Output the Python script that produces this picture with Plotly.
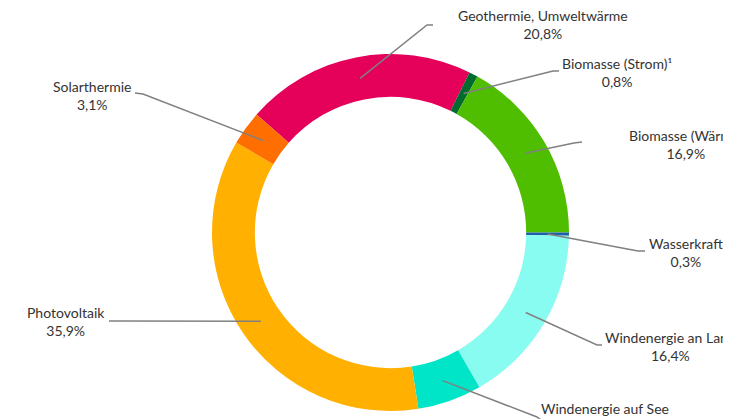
import math
import plotly.graph_objects as go

# ---- data ----
labels = ["Geothermie, Umweltwärme", "Biomasse (Strom)¹", "Biomasse (Wärme)", "Wasserkraft",
          "Windenergie an Land", "Windenergie auf See", "Photovoltaik", "Solarthermie"]
values = [20.8, 0.8, 16.9, 0.3, 16.4, 5.8, 35.9, 3.1]
value_text = ["20,8%", "0,8%", "16,9%", "0,3%", "16,4%", "5,8%", "35,9%", "3,1%"]
colors = ["#E5005A", "#006B2E", "#50BE00", "#1F5FA8", "#88FCF0", "#00E4C8", "#FFB000", "#FF6E00"]

# ---- layout constants (pixels in the screenshot) ----
W, H = 731, 419
OFF = 8  # page body margin
CX, CY, R = 390.5, 232.5, 178.5
HOLE = 0.76
ROT = -48.6  # start angle of first slice, clockwise from 12 o'clock

# label block centers and leader-line elbow/end points (pixels)
label_pos = [(543, 25), (617, 72.5), (686, 144), (686, 252.5),
             (670, 346), (605, 417), (66, 321), (92, 95.5)]
leader = [[(427, 25), (433, 25)],
          [(553, 71), (559, 71)],
          [(574, 143), (582, 142)],
          [(638, 251), (645, 251)],
          [(597, 345), (602, 345)],
          [(537, 417), (541, 420)],
          [(120, 321), (109, 321)],
          [(143, 94), (135, 93)]]

def px(x):
    return (x - OFF) / W

def py(y):
    return 1 - (y - OFF) / H

fig = go.Figure(go.Pie(
    labels=labels, values=values, sort=False, direction="clockwise",
    rotation=ROT, hole=HOLE,
    marker=dict(colors=colors, line=dict(width=0)),
    textinfo="none", hoverinfo="label+percent",
    domain=dict(x=[px(CX - R), px(CX + R)], y=[py(CY + R), py(CY - R)]),
    showlegend=False,
))

total = sum(values)
shapes = []
annotations = []
cum = 0.0
r_mid = R * (1 + HOLE) / 2
for i, v in enumerate(values):
    mid = ROT + (cum + v / 2) / total * 360
    cum += v
    a = math.radians(mid)
    x0 = CX + r_mid * math.sin(a)
    y0 = CY - r_mid * math.cos(a)
    pts = [(x0, y0)] + leader[i]
    path = "M " + " L ".join(f"{px(x):.5f},{py(y):.5f}" for x, y in pts)
    shapes.append(dict(type="path", path=path, xref="paper", yref="paper",
                       line=dict(color="#808080", width=1.5)))
    lx, ly = label_pos[i]
    annotations.append(dict(text=f"{labels[i]}<br>{value_text[i]}", x=px(lx), y=py(ly),
                            xref="paper", yref="paper", xanchor="center", yanchor="middle",
                            showarrow=False, align="center",
                            font=dict(family="Lato", size=14, color="#333333")))

fig.update_layout(
    width=W, height=H, margin=dict(l=0, r=0, t=0, b=0),
    paper_bgcolor="white", plot_bgcolor="white",
    shapes=shapes, annotations=annotations,
)
fig.write_html("out.html")
